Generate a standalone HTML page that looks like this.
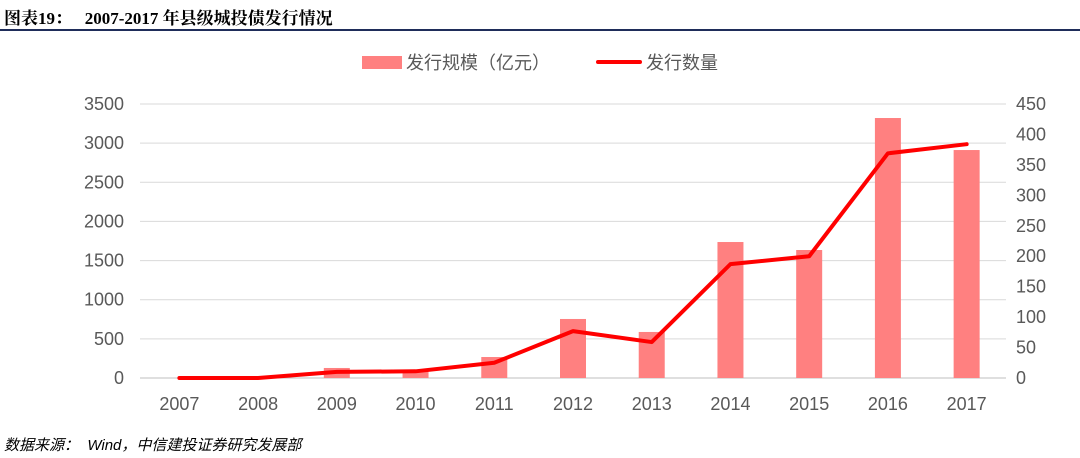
<!DOCTYPE html>
<html><head><meta charset="utf-8"><style>
body{margin:0;width:1080px;height:458px;background:#fff;overflow:hidden;font-family:"Liberation Sans","Noto Sans CJK SC",sans-serif;}
#title{position:absolute;left:4px;top:4px;font-family:"Liberation Serif","Noto Serif CJK SC",serif;font-weight:bold;font-size:17px;color:#000;}
#rule{position:absolute;left:0;top:29px;width:1080px;height:2px;background:#1f2d5a;}
#src{position:absolute;left:4px;top:434px;font-style:italic;font-size:15px;color:#000;font-family:"Liberation Sans","Noto Sans CJK SC",sans-serif;}
svg{position:absolute;left:0;top:0;}
</style></head><body>
<div id="title">图表19：&nbsp;&nbsp;&nbsp;2007-2017 年县级城投债发行情况</div>
<div id="rule"></div>
<svg id="chart" width="1080" height="458"></svg>
<div id="src">数据来源：&nbsp;&nbsp;Wind，中信建投证券研究发展部</div>
<script>
const categories=["2007","2008","2009","2010","2011","2012","2013","2014","2015","2016","2017"];
const issueScale=[0,0,128,102,268,754,588,1737,1635,3321,2912];
const issueCount=[0,0,10,11,25,77,59,187,200,369,384];
const leftTicks=[0,500,1000,1500,2000,2500,3000,3500];
const rightTicks=[0,50,100,150,200,250,300,350,400,450];
const NS="http://www.w3.org/2000/svg";
const svg=document.getElementById("chart");
const x0=140,x1=1006,yb=378,yt=104;
const step=(x1-x0)/categories.length;
const xc=i=>x0+step*(i+0.5);
const yL=v=>yb-(v/3500)*(yb-yt);
const yR=v=>yb-(v/450)*(yb-yt);
function mk(t,a){const e=document.createElementNS(NS,t);for(const k in a)e.setAttribute(k,a[k]);svg.appendChild(e);return e;}
leftTicks.forEach(v=>{
 const g=mk("line",{x1:x0,x2:x1,y1:yL(v),y2:yL(v),stroke:v===0?"#bfbfbf":"#d9d9d9","stroke-width":1});
 
 
 const t=mk("text",{x:124,y:yL(v)+6,"text-anchor":"end","font-size":18,fill:"#595959"});
 t.textContent=v;
 
 
});
rightTicks.forEach(v=>{
 const t=mk("text",{x:1016,y:yR(v)+6,"text-anchor":"start","font-size":18,fill:"#595959"});
 t.textContent=v;
 
 
});
categories.forEach((c,i)=>{
 const t=mk("text",{x:xc(i),y:410,"text-anchor":"middle","font-size":18,fill:"#595959"});
 t.textContent=c;
 
 
 const h=yb-yL(issueScale[i]);
 const b=mk("rect",{x:xc(i)-13,y:yL(issueScale[i]),width:26,height:h,fill:"#ff8080"});
 
 
});
const pts=issueCount.map((v,i)=>xc(i)+","+yR(v)).join(" ");
const pl=mk("polyline",{points:pts,fill:"none",stroke:"#ff0000","stroke-width":4,"stroke-linejoin":"round","stroke-linecap":"round"});


const lb=mk("rect",{x:362,y:56,width:40,height:13,fill:"#ff8080"});


const lt1=mk("text",{x:406,y:69,"font-size":18,fill:"#595959"});
lt1.textContent="发行规模（亿元）";


const ll=mk("line",{x1:598,x2:640,y1:62,y2:62,stroke:"#ff0000","stroke-width":4,"stroke-linecap":"round"});


const lt2=mk("text",{x:646,y:69,"font-size":18,fill:"#595959"});
lt2.textContent="发行数量";


</script>
</body></html>
